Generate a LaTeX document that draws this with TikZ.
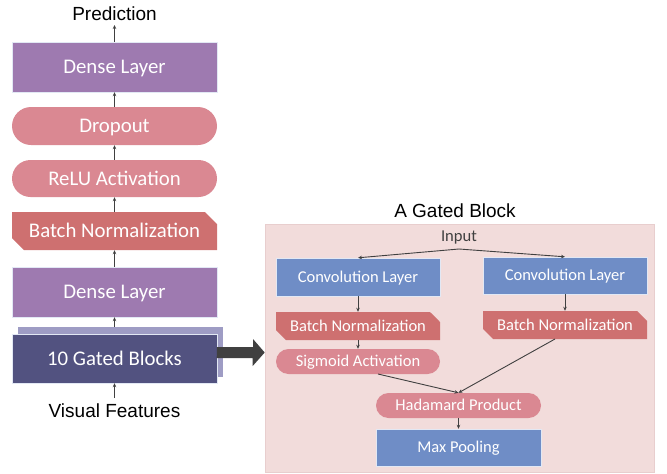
\documentclass[tikz,border=0pt]{standalone}
\usepackage{fontspec}
\setmainfont{Carlito}
\newfontfamily\arialf{Liberation Sans}
\usetikzlibrary{arrows.meta,shapes.misc,calc}
\definecolor{purp}{RGB}{158,122,176}
\definecolor{pinkc}{RGB}{218,136,146}
\definecolor{bnred}{RGB}{206,112,112}
\definecolor{bluec}{RGB}{111,141,198}
\definecolor{navy}{RGB}{82,82,128}
\definecolor{shadowc}{RGB}{158,156,196}
\definecolor{panelc}{RGB}{242,220,219}
\definecolor{panelb}{RGB}{232,206,206}
\definecolor{darkg}{RGB}{64,64,64}
\tikzset{
  big/.style={font=\fontsize{20.8}{24}\selectfont, text=white, inner sep=0pt, text height=13.5pt, text depth=0pt},
  small/.style={font=\fontsize{16.5}{20}\selectfont, text=white, inner sep=0pt, text height=10.7pt, text depth=0pt},
  rectbox/.style={rectangle, draw=white!80!bluec, line width=0.4pt},
  pill/.style={rectangle, fill=pinkc},
  bnbox/.style={chamfered rectangle, chamfered rectangle corners={north east,south west}, chamfered rectangle xsep=6pt, chamfered rectangle ysep=6pt, fill=bnred},
  conn/.style={draw=darkg, line width=0.9pt, -{Stealth[length=4pt,width=3.5pt]}},
  lbl/.style={font=\arialf\fontsize{19}{22}\selectfont, text=black, inner sep=0pt},
}
\begin{document}
\begin{tikzpicture}[x=1pt,y=-1pt]
\useasboundingbox (0,0) rectangle (667,474);
% left column
\node[lbl] (pred) at (114.5,14) {Prediction};
\node[big, rectbox, fill=purp, minimum width=205pt, minimum height=50pt] (d1) at (114.5,67) {Dense Layer};
\node[big, pill, rounded corners=19pt, minimum width=205pt, minimum height=38pt] (drop) at (114.5,126) {Dropout};
\node[big, pill, rounded corners=18.5pt, minimum width=205pt, minimum height=37pt] (relu) at (114.5,178.5) {ReLU Activation};
\node[big, bnbox, minimum width=205pt, minimum height=38pt] (bn) at (114.5,231) {Batch Normalization};
\node[big, rectbox, fill=purp, minimum width=205pt, minimum height=50pt] (d2) at (114.5,292) {Dense Layer};
\node[fill=shadowc, minimum width=205pt, minimum height=50pt, inner sep=0pt] (shad) at (120.5,352) {};
\node[big, rectbox, fill=navy, minimum width=205pt, minimum height=49pt] (gb) at (114.5,358.5) {10 Gated Blocks};
\node[lbl] (vis) at (114.5,411) {Visual Features};
\coordinate (predb) at (114.5,25);
\coordinate (visT) at (114.5,398);
\draw[conn] (d1.north) -- (predb);
\draw[conn] (drop.north) -- (d1.south);
\draw[conn] (relu.north) -- (drop.south);
\draw[conn] (bn.north) -- (relu.south);
\draw[conn] (d2.north) -- (bn.south);
\draw[conn] (shad.north -| gb.north) -- (d2.south);
\draw[conn] (visT) -- (gb.south);
% panel
\node[rectangle, fill=panelc, draw=panelb, line width=0.6pt, minimum width=389pt, minimum height=248pt, inner sep=0pt] (panel) at (459.5,348) {};
% big arrow from gated blocks to panel
\coordinate (arrS) at (217,352.5);
\fill[darkg] (arrS) ++(0,-5.5) -- ++(36,0) -- ++(0,-8) -- (panel.west |- arrS) -- ++(-12,13.5) -- ++(0,-8) -- ++(-36,0) -- cycle;
\node[lbl] (title) at (455,211) {A Gated Block};
\node[font=\fontsize{16.6}{20}\selectfont, text=darkg, inner sep=0pt] (inp) at (459,238) {Input};
\coordinate (inpb) at (459,249);
\node[small, rectbox, fill=bluec, minimum width=164pt, minimum height=38pt] (c1) at (358,277) {Convolution Layer};
\node[small, rectbox, fill=bluec, minimum width=164pt, minimum height=37pt] (c2) at (565,275.5) {Convolution Layer};
\node[small, bnbox, chamfered rectangle xsep=5pt, chamfered rectangle ysep=5pt, minimum width=164pt, minimum height=28pt] (b1) at (358,326) {Batch Normalization};
\node[small, bnbox, chamfered rectangle xsep=5pt, chamfered rectangle ysep=5pt, minimum width=164pt, minimum height=28pt] (b2) at (565,325) {Batch Normalization};
\node[small, pill, rounded corners=12.5pt, minimum width=164pt, minimum height=25pt] (sig) at (358,361.5) {Sigmoid Activation};
\node[small, pill, rounded corners=12.5pt, minimum width=165pt, minimum height=25pt] (had) at (458.5,405.5) {Hadamard Product};
\node[small, rectbox, fill=bluec, minimum width=165pt, minimum height=37pt] (mp) at (458.5,447.5) {Max Pooling};
\draw[conn] (inpb) -- (c1.north);
\draw[conn] (inpb) -- (c2.north);
\draw[conn] (c1.south) -- (b1.north);
\draw[conn] (c2.south) -- (b2.north);
\draw[conn] (b1.south) -- (sig.north);
\coordinate (sigo) at (378,374);
\coordinate (b2o) at (555,339);
\draw[conn] (sigo) -- (had.north);
\draw[conn] (b2o) -- (had.north);
\draw[conn] (had.south) -- (mp.north);
\end{tikzpicture}
\end{document}
